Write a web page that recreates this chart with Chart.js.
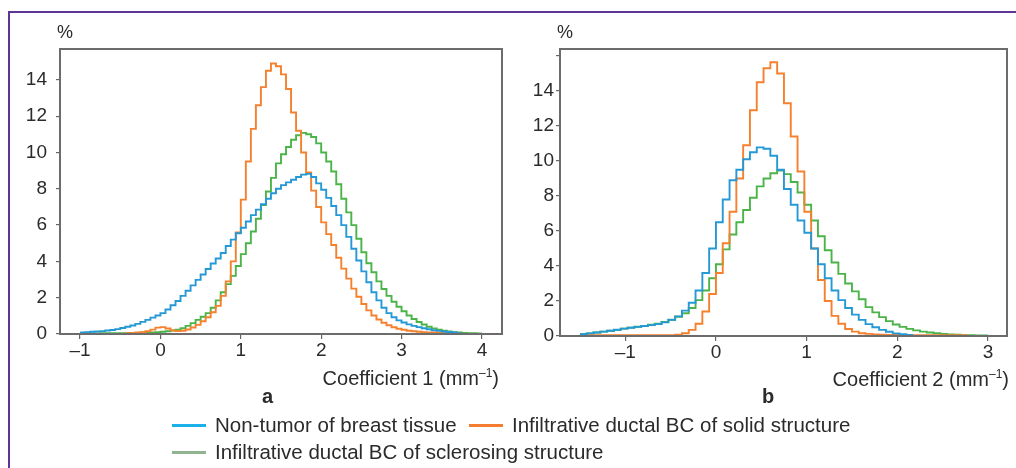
<!DOCTYPE html>
<html><head><meta charset="utf-8">
<script src="https://cdn.jsdelivr.net/npm/chart.js@4"></script>
<style>
html,body{margin:0;padding:0;background:#fff;}
body{width:1016px;height:468px;position:relative;overflow:hidden;font-family:"Liberation Sans",Arial,sans-serif;color:#2b2b2b;}
.frame{position:absolute;left:8px;top:11px;width:1020px;height:470px;border-top:2.5px solid #5e3594;border-left:2.5px solid #5e3594;}
canvas{position:absolute;top:0;}
#ca{left:0;} #cb{left:508px;}
.t{position:absolute;font-size:20px;white-space:nowrap;line-height:20px;}
.lt{font-size:20.5px;}
.p{font-size:18px;line-height:18px;}
.r{text-align:right;}
.sup{font-size:12px;position:relative;top:-8px;}
.bold{font-weight:bold;}
.lg{position:absolute;height:3px;width:34px;}
</style></head>
<body>
<div class="frame"></div>
<canvas id="ca" width="508" height="400"></canvas>
<canvas id="cb" width="508" height="400"></canvas>
<div class="t p" style="left:57px;top:23px;">%</div>
<div class="t p" style="left:557px;top:23px;">%</div>
<div class="t r" style="right:517px;top:368px;">Coefficient 1 (mm<span class="sup">–1</span>)</div>
<div class="t r" style="right:7px;top:369px;">Coefficient 2 (mm<span class="sup">–1</span>)</div>
<div class="t bold" style="left:262px;top:386px;">a</div>
<div class="t bold" style="left:762px;top:386px;">b</div>
<div class="lg" style="left:172px;top:424px;background:#1ab1ea;"></div>
<div class="t lt" style="left:215px;top:415px;">Non-tumor of breast tissue</div>
<div class="lg" style="left:469px;top:424px;background:#f47d2f;"></div>
<div class="t lt" style="left:512px;top:415px;">Infiltrative ductal BC of solid structure</div>
<div class="lg" style="left:172px;top:451px;background:#8fb48f;"></div>
<div class="t lt" style="left:215px;top:442px;">Infiltrative ductal BC of sclerosing structure</div>
<script>
// ---------- Panel a (Coefficient 1) ----------
const binStartA = -1, binWidthA = 0.0625, binCountA = 80;
const xTicksA = [-1, 0, 1, 2, 3, 4];
const xTickLabelsA = ['–1', '0', '1', '2', '3', '4'];
const yTicksA = [0, 2, 4, 6, 8, 10, 12, 14];
const yTickLabelsA = ['0', '2', '4', '6', '8', '10', '12', '14'];

const blueAStart = 0;
const blueA = [0.08,0.1,0.12,0.14,0.16,0.19,0.22,0.27,0.33,0.4,0.47,0.56,0.67,0.78,0.9,1.02,1.15,1.35,1.58,1.82,2.1,2.38,2.68,2.98,3.28,3.58,3.88,4.16,4.46,4.85,5.2,5.55,5.85,6.2,6.55,6.85,7.15,7.45,7.75,8.0,8.2,8.35,8.5,8.65,8.78,8.82,8.65,8.3,7.95,7.5,7.05,6.55,6.0,5.35,4.7,4.05,3.45,2.85,2.3,1.85,1.45,1.15,0.92,0.75,0.63,0.53,0.45,0.38,0.32,0.26,0.21,0.17,0.14,0.11,0.08,0.05];
const orangeAStart = 9;
const orangeA = [0.05,0.06,0.08,0.1,0.15,0.24,0.35,0.38,0.3,0.2,0.16,0.18,0.25,0.36,0.5,0.7,0.92,1.2,1.55,2.1,2.9,4.0,5.6,7.4,9.5,11.3,12.6,13.6,14.5,14.9,14.75,14.3,13.5,12.2,11.2,10.0,8.9,7.9,7.0,6.15,5.5,4.9,4.2,3.6,3.05,2.5,2.05,1.65,1.3,1.02,0.8,0.62,0.48,0.37,0.29,0.23,0.18,0.15,0.12,0.1,0.09,0.08,0.07,0.06,0.06,0.05,0.05];
const greenAStart = 0;
const greenA = [0.03,0.03,0.03,0.03,0.04,0.04,0.04,0.05,0.05,0.05,0.06,0.06,0.07,0.08,0.09,0.1,0.12,0.15,0.19,0.24,0.32,0.45,0.6,0.78,0.95,1.15,1.45,1.85,2.3,2.75,3.2,3.75,4.4,5.0,5.65,6.35,7.1,7.85,8.6,9.4,9.9,10.3,10.7,10.95,11.08,11.0,10.85,10.5,10.0,9.5,8.95,8.25,7.45,6.7,6.0,5.25,4.5,3.9,3.4,2.9,2.48,2.1,1.78,1.5,1.25,1.02,0.83,0.66,0.52,0.4,0.31,0.24,0.18,0.14,0.1,0.08,0.06,0.05,0.04,0.03];

// ---------- Panel b (Coefficient 2) ----------
const binStartB = -1.5, binWidthB = 0.075, binCountB = 60;
const xTicksB = [-1, 0, 1, 2, 3];
const xTickLabelsB = ['–1', '0', '1', '2', '3'];
const yTicksB = [0, 2, 4, 6, 8, 10, 12, 14, 16];
const yTickLabelsB = ['0', '2', '4', '6', '8', '10', '12', '14', ''];

const blueBStart = 0;
const blueB = [0.1,0.15,0.2,0.25,0.3,0.36,0.42,0.47,0.52,0.57,0.62,0.68,0.78,0.92,1.12,1.45,1.9,2.6,3.6,5.0,6.5,7.8,8.9,9.5,10.1,10.5,10.78,10.7,10.3,9.5,8.4,7.5,6.6,5.9,5.0,4.1,3.3,2.6,2.05,1.6,1.22,0.92,0.68,0.5,0.35,0.24,0.15,0.1,0.06];
const orangeBStart = 0;
const orangeB = [0.04,0.04,0.04,0.04,0.04,0.04,0.04,0.04,0.04,0.04,0.04,0.04,0.04,0.05,0.08,0.16,0.35,0.7,1.4,2.4,3.6,5.3,7.1,9.0,10.9,12.9,14.5,15.3,15.64,15.0,13.3,11.4,9.4,7.1,5.0,3.2,2.0,1.15,0.7,0.4,0.25,0.16,0.12,0.09,0.07,0.06,0.06,0.05,0.05,0.05,0.05,0.05,0.04,0.04,0.04,0.04,0.04];
const greenBStart = 0;
const greenB = [0.1,0.15,0.2,0.25,0.3,0.35,0.42,0.48,0.53,0.58,0.64,0.7,0.8,0.93,1.1,1.3,1.6,2.05,2.6,3.3,4.1,4.95,5.8,6.5,7.2,7.9,8.55,9.0,9.3,9.45,9.25,8.8,8.2,7.5,6.6,5.7,4.9,4.2,3.55,3.0,2.55,2.1,1.65,1.35,1.08,0.85,0.66,0.52,0.41,0.32,0.25,0.2,0.16,0.12,0.09,0.07,0.05,0.04,0.03,0.03];

const seriesNames = ['Non-tumor of breast tissue', 'Infiltrative ductal BC of solid structure', 'Infiltrative ductal BC of sclerosing structure'];
const seriesColors = ['#2499d5', '#f5802e', '#4bb449'];

function edges(start, width, count) {
  const e = [];
  for (let i = 0; i <= count; i++) e.push(start + i * width);
  return e;
}
function stepPoints(edgeArr, startIdx, vals) {
  const pts = vals.map((v, k) => ({x: edgeArr[startIdx + k], y: v}));
  pts.push({x: edgeArr[startIdx + vals.length], y: vals[vals.length - 1]});
  return pts;
}

const boxPlugin = {
  id: 'box',
  afterDraw(chart) {
    const a = chart.chartArea, c = chart.ctx;
    c.save();
    c.strokeStyle = '#6c6c6c';
    c.lineWidth = 2;
    c.strokeRect(a.left, a.top, a.right - a.left, a.bottom - a.top);
    c.restore();
  }
};

const FONT = {family: "'Liberation Sans', Arial, sans-serif", size: 19};

function makeChart(id, cfg) {
  const e = edges(cfg.binStart, cfg.binWidth, cfg.binCount);
  const datasets = cfg.series.map((s, i) => ({
    label: seriesNames[i],
    data: stepPoints(e, s.start, s.vals),
    borderColor: seriesColors[i],
    borderWidth: 1.9,
    stepped: 'before',
    pointRadius: 0,
    fill: false
  }));
  return new Chart(document.getElementById(id), {
    type: 'line',
    data: {datasets},
    plugins: [boxPlugin],
    options: {
      responsive: false, animation: false, events: [],
      layout: {padding: {left: 0, top: 49, right: cfg.padRight, bottom: 0}},
      plugins: {legend: {display: false}, tooltip: {enabled: false}},
      scales: {
        x: {
          type: 'linear', min: cfg.xMin, max: cfg.xMax,
          afterBuildTicks: s => { s.ticks = cfg.xTicks.map(v => ({value: v})); },
          afterFit: s => { s.height = cfg.xAxisHeight; },
          ticks: {callback: (v, i) => cfg.xTickLabels[i], font: FONT, color: '#2b2b2b', padding: 0, maxRotation: 0, autoSkip: false},
          grid: {drawOnChartArea: false, drawTicks: true, tickLength: 5, color: '#666', lineWidth: 1.2},
          border: {display: true, color: '#6c6c6c', width: 2}
        },
        y: {
          type: 'linear', min: 0, max: cfg.yMax,
          afterBuildTicks: s => { s.ticks = cfg.yTicks.map(v => ({value: v})); },
          afterFit: s => { s.width = cfg.yAxisWidth; },
          ticks: {callback: (v, i) => cfg.yTickLabels[i], font: FONT, color: '#2b2b2b', padding: cfg.yPad, autoSkip: false},
          grid: {drawOnChartArea: false, drawTicks: true, tickLength: 4, color: '#666', lineWidth: 1.2},
          border: {display: true, color: '#6c6c6c', width: 2}
        }
      }
    }
  });
}

makeChart('ca', {
  binStart: binStartA, binWidth: binWidthA, binCount: binCountA,
  series: [{start: blueAStart, vals: blueA}, {start: orangeAStart, vals: orangeA}, {start: greenAStart, vals: greenA}],
  xMin: -1.25, xMax: 4.25, yMax: 15.7,
  xTicks: xTicksA, xTickLabels: xTickLabelsA, yTicks: yTicksA, yTickLabels: yTickLabelsA,
  yAxisWidth: 60, xAxisHeight: 66, padRight: 6, yPad: 9
});
makeChart('cb', {
  binStart: binStartB, binWidth: binWidthB, binCount: binCountB,
  series: [{start: blueBStart, vals: blueB}, {start: orangeBStart, vals: orangeB}, {start: greenBStart, vals: greenB}],
  xMin: -1.72, xMax: 3.21, yMax: 16.4,
  xTicks: xTicksB, xTickLabels: xTickLabelsB, yTicks: yTicksB, yTickLabels: yTickLabelsB,
  yAxisWidth: 52, xAxisHeight: 64, padRight: 9, yPad: 2
});
</script>
</body></html>
